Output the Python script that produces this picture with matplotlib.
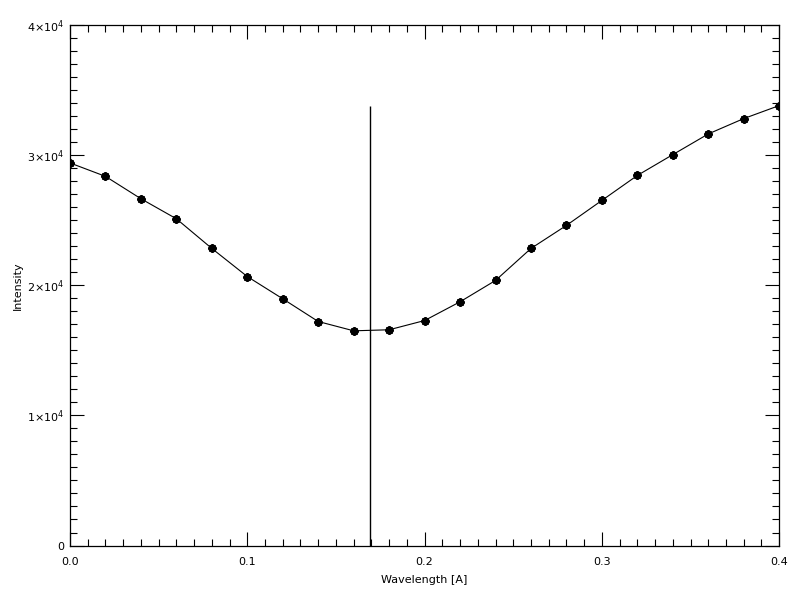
import matplotlib
matplotlib.use("Agg")
import matplotlib.pyplot as plt
from matplotlib.ticker import MultipleLocator, FuncFormatter

wavelength = [0.00, 0.02, 0.04, 0.06, 0.08, 0.10, 0.12, 0.14, 0.16, 0.18, 0.20,
              0.22, 0.24, 0.26, 0.28, 0.30, 0.32, 0.34, 0.36, 0.38, 0.40]
intensity = [29400, 28370, 26650, 25110, 22830, 20670, 18960, 17215, 16500, 16580, 17290,
             18730, 20370, 22830, 24600, 26520, 28440, 30040, 31630, 32810, 33810]
line_center = 0.169
y_ticks = [0, 10000, 20000, 30000, 40000]
y_tick_labels = ["0", r"$1{\times}10^4$", r"$2{\times}10^4$", r"$3{\times}10^4$", r"$4{\times}10^4$"]

plt.rcParams["font.family"] = "DejaVu Sans"
plt.rcParams["mathtext.fontset"] = "dejavusans"

fig = plt.figure(figsize=(8, 6), dpi=100)
ax = fig.add_axes([0.0875, 0.0908, 0.8865, 0.8675])

ax.plot(wavelength, intensity, color="black", linewidth=0.8,
        marker=(8, 2, 0), markersize=6, markeredgewidth=1.6)
ax.vlines(line_center, 0, max(intensity), color="black", linewidth=1.0)

ax.set_xlim(0, 0.4)
ax.set_ylim(0, 40000)
ax.xaxis.set_major_locator(MultipleLocator(0.1))
ax.xaxis.set_minor_locator(MultipleLocator(0.01))
ax.xaxis.set_major_formatter(FuncFormatter(lambda v, p: "%.1f" % v))
ax.set_yticks(y_ticks)
ax.set_yticklabels(y_tick_labels)
ax.yaxis.set_minor_locator(MultipleLocator(1000))

ax.tick_params(which="both", direction="in", top=True, right=True, labelsize=8, width=0.8)
ax.tick_params(axis="x", which="major", length=10, pad=8)
ax.tick_params(axis="y", which="major", length=10, pad=4)
ax.tick_params(which="minor", length=5)
for s in ax.spines.values():
    s.set_linewidth(0.9)

ax.set_xlabel("Wavelength [A]", fontsize=8, labelpad=6)
ax.set_ylabel("Intensity", fontsize=8, labelpad=3)

fig.savefig("out.png", dpi=100)
